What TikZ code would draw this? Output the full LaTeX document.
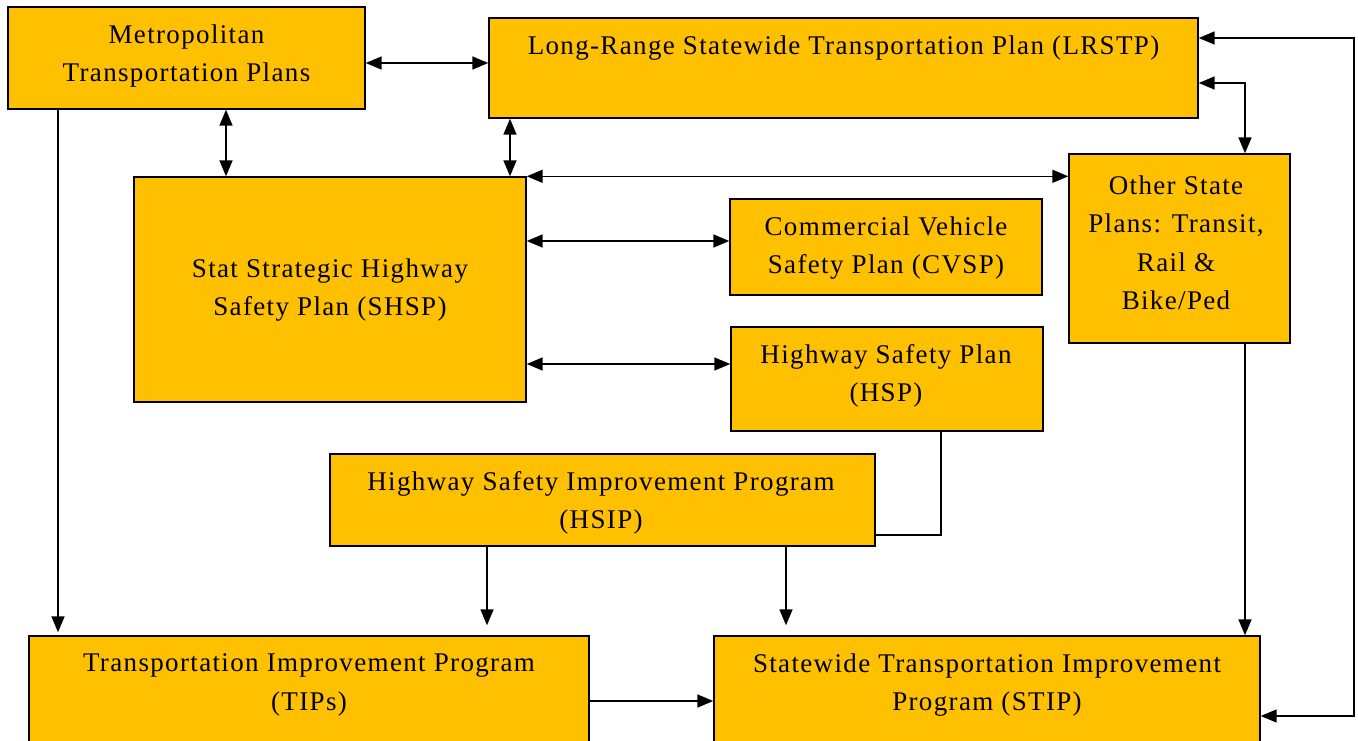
\documentclass[tikz,border=0pt]{standalone}
\usepackage{fontspec}
\setmainfont{Liberation Serif}[LetterSpace=5]
\usetikzlibrary{arrows.meta}
\definecolor{gold}{HTML}{FFC000}
\tikzset{
  box/.style={draw=black, line width=1.4pt, fill=gold, inner sep=0pt, anchor=center},
  txt/.style={align=center, inner sep=0pt, font=\fontsize{27}{38.5}\selectfont},
  link/.style={line width=1.6pt, draw=black},
  tipA/.style={-{Triangle[length=16pt,width=13pt]}},
  dbl/.style={{Triangle[length=16pt,width=13pt]}-{Triangle[length=16pt,width=13pt]}},
}
\begin{document}
\begin{tikzpicture}[x=1pt,y=-1pt]
\path[use as bounding box, clip] (0,0) rectangle (1358,740);
% boxes
\node[box, minimum width=357pt, minimum height=102pt] (metro) at (186.5,58) {};
\node[box, minimum width=709pt, minimum height=100pt] (lrstp) at (843.5,68) {};
\node[box, minimum width=392pt, minimum height=225pt] (shsp) at (330,289.5) {};
\node[box, minimum width=312pt, minimum height=96pt] (cvsp) at (886,247) {};
\node[box, minimum width=312pt, minimum height=104pt] (hsp) at (887,379) {};
\node[box, minimum width=221pt, minimum height=189pt] (other) at (1179.5,248.5) {};
\node[box, minimum width=545pt, minimum height=92pt] (hsip) at (602.5,500) {};
\node[box, minimum width=560pt, minimum height=164pt] (tip) at (309,718) {};
\node[box, minimum width=546pt, minimum height=164pt] (stip) at (987,718) {};
% texts
\node[txt] (tmetro) at (186.5,56) {Metropolitan\\Transportation Plans};
\node[txt] (tlrstp) at (843.5,48) {Long-Range Statewide Transportation Plan (LRSTP)};
\node[txt] (tshsp) at (330,290) {Stat Strategic Highway\\Safety Plan (SHSP)};
\node[txt] (tcvsp) at (886,248) {Commercial Vehicle\\Safety Plan (CVSP)};
\node[txt] (thsp) at (886,376) {Highway Safety Plan\\(HSP)};
\node[txt] (tother) at (1176,243) {Other State\\Plans: Transit,\\Rail \&\\Bike/Ped};
\node[txt] (thsip) at (601,503) {Highway Safety Improvement Program\\(HSIP)};
\node[txt] (ttip) at (309,685) {Transportation Improvement Program\\(TIPs)};
\node[txt] (tstip) at (987,685) {Statewide Transportation Improvement\\Program (STIP)};
% connectors
\coordinate (loop) at (1354,377);
\draw[link,dbl] (metro.east |- 0,63) -- (lrstp.west |- 0,63);
\draw[link,dbl] (metro.south -| 226,0) -- (shsp.north -| 226,0);
\draw[link,dbl] (lrstp.south -| 510,0) -- (shsp.north -| 510,0);
\draw[link,dbl] (shsp.north east) -- (other.west |- shsp.north east);
\draw[link,dbl] (shsp.east |- 0,241) -- (cvsp.west |- 0,241);
\draw[link,dbl] (shsp.east |- 0,364) -- (hsp.west |- 0,364);
\draw[link,dbl] (lrstp.east |- 0,83) -| (other.north -| 1245,0);
\draw[link,dbl] (stip.east |- 0,716) -| (loop) |- (lrstp.east |- 0,38);
\draw[link,tipA,shorten >=3pt] (metro.south -| 58,0) -- (tip.north -| 58,0);
\draw[link,tipA,shorten >=10pt] (hsip.south -| 487,0) -- (tip.north -| 487,0);
\draw[link,tipA,shorten >=10pt] (hsip.south -| 786,0) -- (stip.north -| 786,0);
\draw[link,tipA] (other.south -| 1245,0) -- (stip.north -| 1245,0);
\draw[link,tipA] (tip.east |- 0,701) -- (stip.west |- 0,701);
\draw[link] (hsp.south -| 941,0) |- (hsip.east |- 0,535);
\end{tikzpicture}
\end{document}
